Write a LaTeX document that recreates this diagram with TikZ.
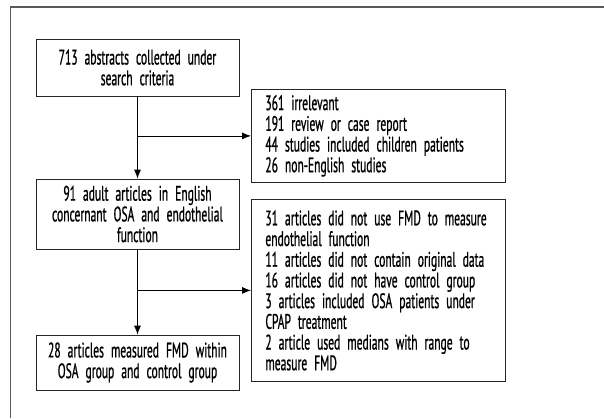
\documentclass[tikz,border=0pt]{standalone}
\usepackage{fontspec}
\setmainfont[FakeStretch=0.55,WordSpace=0.6,FakeBold=0.8]{PT Sans}
\usetikzlibrary{arrows.meta}
\begin{document}
\begin{tikzpicture}[x=1pt,y=-1pt,
  font=\fontsize{21}{20.7}\selectfont,
  stepbox/.style={draw=black!85,line width=0.8pt,inner sep=0pt,align=center,text width=203pt,minimum width=203pt},
  outbox/.style={draw=black!85,line width=0.8pt,inner xsep=14pt,inner ysep=0pt,align=left,text width=226pt,minimum width=248pt,anchor=north west},
  arr/.style={line width=0.8pt,-{Latex[length=9pt,width=7pt]}}]
  \useasboundingbox (0,0) rectangle (604,418);
  % frame
  \draw[black!65,line width=1.4pt] (604,7) -- (10.5,7) -- (10.5,418);
  % main column
  \node[stepbox,minimum height=57pt] (abs) at (137.5,67.5) {713 abstracts collected under\\search criteria};
  \node[stepbox,minimum height=70pt] (adult) at (137.5,214) {91 adult articles in English\\concernant OSA and endothelial\\function};
  \node[stepbox,minimum height=55pt] (fmd) at (137.5,362.5) {28 articles measured FMD within\\OSA group and control group};
  % excluded
  \node[outbox,minimum height=93pt] (ex1) at (251,89) {361 irrelevant\\191 review or case report\\44 studies included children patients\\26 non-English studies};
  \node[outbox,minimum height=182pt] (ex2) at (251,199) {31 articles did not use FMD to measure\\endothelial function\\11 articles did not contain original data\\16 articles did not have control group\\3 articles included OSA patients under\\CPAP treatment\\2 article used medians with range to\\measure FMD};
  % arrows
  \coordinate (j1) at (abs.south |- ex1.west);
  \coordinate (j2) at (adult.south |- ex2.west);
  \draw[arr] (abs) -- (adult);
  \draw[arr] (j1) -- (ex1);
  \draw[arr] (adult) -- (fmd);
  \draw[arr] (j2) -- (ex2);
\end{tikzpicture}
\end{document}
